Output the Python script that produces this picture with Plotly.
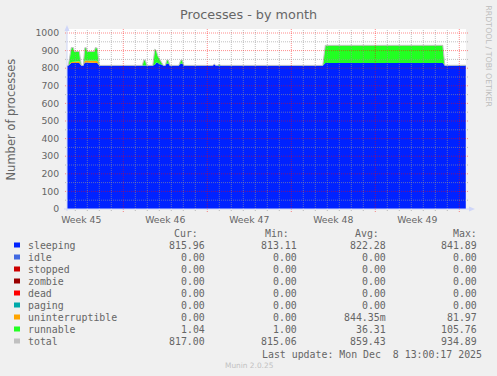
import plotly.graph_objects as go
import pandas as pd

# ---------------- data ----------------
times = [
    "2025-11-05 07:00", "2025-11-05 10:00", "2025-11-05 16:00", "2025-11-05 20:00",
    "2025-11-05 22:00", "2025-11-06 08:00", "2025-11-06 12:00", "2025-11-06 16:00",
    "2025-11-06 19:00", "2025-11-06 22:00", "2025-11-07 00:00", "2025-11-07 14:00",
    "2025-11-07 16:00", "2025-11-07 20:00", "2025-11-08 00:00",
    "2025-11-11 14:00", "2025-11-11 17:00", "2025-11-11 20:00", "2025-11-11 23:00",
    "2025-11-12 11:00", "2025-11-12 15:00", "2025-11-12 18:00", "2025-11-12 21:00",
    "2025-11-13 01:00", "2025-11-13 05:00", "2025-11-13 08:00",
    "2025-11-13 12:00", "2025-11-13 15:00", "2025-11-13 18:00", "2025-11-13 21:00",
    "2025-11-14 15:00", "2025-11-14 19:00", "2025-11-14 22:00", "2025-11-15 01:00",
    "2025-11-17 11:00", "2025-11-17 14:00", "2025-11-17 17:00",
    "2025-11-17 21:00", "2025-11-18 00:00", "2025-11-18 03:00",
    "2025-11-26 15:00", "2025-11-26 20:00", "2025-12-06 15:00", "2025-12-06 19:00",
    "2025-12-08 13:00",
]
sleeping = [
    815, 815, 830, 830, 830, 830, 815, 815, 832, 832, 832, 832, 832, 830, 815,
    815, 818, 818, 815,
    815, 820, 832, 830, 825, 818, 815,
    815, 826, 826, 815,
    815, 827, 827, 815,
    815, 822, 815,
    815, 816, 815,
    815, 830, 830, 815,
    815.96,
]
uninterruptible = [
    0, 0, 5, 5, 9, 9, 0, 0, 12, 12, 14, 14, 13, 12, 0,
    0, 0, 0, 0,
    0, 0, 0, 0, 0, 0, 0,
    0, 0, 0, 0,
    0, 0, 0, 0,
    0, 0, 0,
    0, 0, 0,
    0, 0, 0, 0,
    0,
]
runnable = [
    1, 1, 82, 82, 56, 56, 1, 1, 72, 72, 49, 49, 72, 72, 1,
    1, 28, 28, 1,
    1, 88, 68, 40, 25, 12, 1,
    1, 20, 20, 1,
    1, 19, 19, 1,
    1, 1, 1,
    1, 6, 1,
    1, 100, 100, 1,
    1.04,
]
total = [
    816, 816, 917, 917, 895, 895, 816, 816, 916, 916, 895, 895, 917, 914, 816,
    816, 846, 846, 816,
    816, 908, 900, 870, 850, 830, 816,
    816, 846, 846, 816,
    816, 846, 846, 816,
    816, 823, 816,
    816, 822, 816,
    816, 930, 930, 816,
    817,
]
idle = [0] * len(times)
stopped = [0] * len(times)
zombie = [0] * len(times)
dead = [0] * len(times)
paging = [0] * len(times)

names = ["sleeping", "idle", "stopped", "zombie", "dead", "paging",
         "uninterruptible", "runnable", "total"]
colors = ["#0022ff", "#4169e1", "#cc0000", "#990000", "#ff0000", "#00aaaa",
          "#ffa500", "#22ff22", "#c0c0c0"]
cur_vals = ["815.96", "0.00", "0.00", "0.00", "0.00", "0.00", "0.00", "1.04", "817.00"]
min_vals = ["813.11", "0.00", "0.00", "0.00", "0.00", "0.00", "0.00", "1.00", "815.06"]
avg_vals = ["822.28", "0.00", "0.00", "0.00", "0.00", "0.00", "844.35m", "36.31", "859.43"]
max_vals = ["841.89", "0.00", "0.00", "0.00", "0.00", "0.00", "81.97", "105.76", "934.89"]

week_pos = ["2025-11-06 12:00", "2025-11-13 12:00", "2025-11-20 12:00",
            "2025-11-27 12:00", "2025-12-04 12:00"]
week_labels = ["Week 45", "Week 46", "Week 47", "Week 48", "Week 49"]
y_ticks = list(range(0, 1001, 100))

title = "Processes - by month"
y_title = "Number of processes"
last_update = "Last update: Mon Dec \u00a08 13:00:17 2025"
footer = "Munin 2.0.25"
watermark = "RRDTOOL / TOBI OETIKER"

# ---------------- geometry helpers (pixel -> paper) ----------------
W, H = 497, 376
L, R, T, B = 67, 466, 29, 209
def px(x):
    return (x - L) / (R - L)
def py(y):
    return (B - y) / (B - T)

FONT = "#666666"
MONO = "DejaVu Sans Mono"
SANS = "DejaVu Sans"
MINOR = "rgba(150,150,150,0.6)"
MAJOR = "rgba(255,0,0,0.45)"

fig = go.Figure()
stack = [sleeping, idle, stopped, zombie, dead, paging, uninterruptible, runnable]
for name, vals, col in zip(names[:8], stack, colors[:8]):
    fig.add_trace(go.Scatter(
        x=times, y=vals, name=name, mode="lines", stackgroup="one",
        line=dict(width=0, color=col), fillcolor=col, hoverinfo="skip"))
fig.add_trace(go.Scatter(x=times, y=total, name="total", mode="lines",
                         line=dict(width=1, color=colors[8]), hoverinfo="skip"))

shapes = []
# grid: minor days, major Mondays
days = pd.date_range("2025-11-06", "2025-12-08", freq="D")
for d in days:
    major = d.weekday() == 0
    shapes.append(dict(
        type="line", xref="x", yref="paper",
        x0=d.strftime("%Y-%m-%d"), x1=d.strftime("%Y-%m-%d"),
        y0=-3 / (B - T) if major else -2 / (B - T), y1=1,
        line=dict(color=MAJOR if major else MINOR, width=1, dash="1px,1px"),
        layer="above"))
for v in range(50, 1001, 50):
    major = v % 100 == 0
    shapes.append(dict(
        type="line", xref="paper", yref="y",
        x0=-2 / (R - L), x1=1 + 2 / (R - L), y0=v, y1=v,
        line=dict(color=MAJOR if major else MINOR, width=1, dash="1px,1px"),
        layer="above"))
# axes and arrows
AX = "#CFD6F8"
shapes.append(dict(type="line", xref="paper", yref="paper",
                   x0=0, x1=0, y0=py(211), y1=py(28), line=dict(color=AX, width=1), layer="above"))
shapes.append(dict(type="line", xref="paper", yref="paper",
                   x0=px(64), x1=px(470), y0=0, y1=0, line=dict(color=AX, width=1), layer="above"))
shapes.append(dict(type="path", xref="paper", yref="paper",
                   path=f"M {px(64.5)},{py(31)} L {px(67)},{py(25)} L {px(69.5)},{py(31)} Z",
                   fillcolor=AX, line=dict(width=0), layer="above"))
shapes.append(dict(type="path", xref="paper", yref="paper",
                   path=f"M {px(469)},{py(206.5)} L {px(475)},{py(209)} L {px(469)},{py(211.5)} Z",
                   fillcolor=AX, line=dict(width=0), layer="above"))

annotations = []
def ann(text, X, Y, xanchor="left", size=9.9, color=FONT, family=MONO, angle=0):
    annotations.append(dict(
        text=text, x=px(X), y=py(Y), xref="paper", yref="paper",
        xanchor=xanchor, yanchor="middle", showarrow=False, textangle=angle,
        borderpad=0, font=dict(family=family, size=size, color=color)))

ann(title, 248.5, 14, "center", size=12.8, family=SANS)
ann(y_title, 10, 119.5, "center", size=11.5, family=SANS, angle=-90)
ann(watermark, 488.7, 56, "center", size=7.9, family=SANS, color="#bdbdbd", angle=90)

# legend table
ann("Cur:", 198.5, 233.5, "right")
ann("Min:", 290, 233.5, "right")
ann("Avg:", 380, 233.5, "right")
ann("Max:", 477.5, 233.5, "right")
for i, name in enumerate(names):
    yc = 245.5 + 12 * i
    shapes.append(dict(type="rect", xref="paper", yref="paper",
                       x0=px(14), x1=px(20), y0=py(yc - 2.5 - 0.5), y1=py(yc + 2.5 - 0.5),
                       fillcolor=colors[i], line=dict(width=0)))
    ann(name, 26.5, yc, "left")
    ann(cur_vals[i], 206.3, yc, "right")
    ann(min_vals[i], 297.5, yc, "right")
    ann(avg_vals[i], 387, yc, "right")
    ann(max_vals[i], 477.5, yc, "right")
ann(last_update, 482.8, 354, "right")
ann(footer, 249.5, 365.5, "center", size=7.4, family=SANS, color="#c2c2c2")

fig.update_layout(
    width=W, height=H,
    margin=dict(l=L, r=W - R, t=T, b=H - B, pad=0),
    paper_bgcolor="#f0f0f0", plot_bgcolor="#ffffff",
    showlegend=False,
    shapes=shapes, annotations=annotations,
    xaxis=dict(type="date", range=["2025-11-05 07:24", "2025-12-08 13:24"],
               tickmode="array", tickvals=week_pos, ticktext=week_labels,
               showgrid=False, zeroline=False, showline=False,
               ticks="outside", ticklen=2, tickcolor="rgba(0,0,0,0)",
               tickfont=dict(family=SANS, size=9.3, color=FONT)),
    yaxis=dict(range=[0, 1000 * (B - T) / 176], tickmode="array", tickvals=y_ticks,
               showgrid=False, zeroline=False, showline=False,
               ticks="outside", ticklen=5, tickcolor="rgba(0,0,0,0)",
               tickfont=dict(family=SANS, size=9.3, color=FONT)),
)

fig.write_html("out.html", config={"displayModeBar": False},
               post_script="document.body.style.margin='0px';document.body.style.overflow='hidden';")
